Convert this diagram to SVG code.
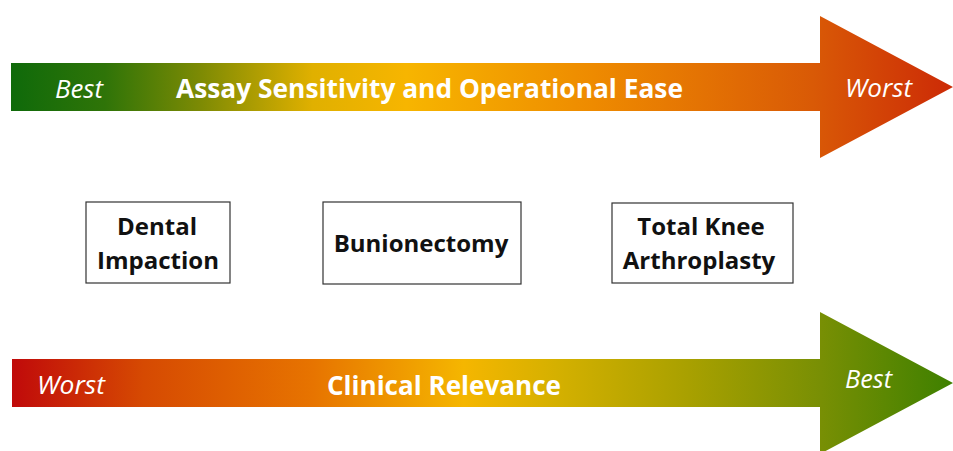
<svg xmlns="http://www.w3.org/2000/svg" width="953" height="451" viewBox="0 0 953 451">
  <defs>
    <linearGradient id="gradTop" gradientUnits="userSpaceOnUse" x1="11" y1="0" x2="953" y2="0">
      <stop offset="0" stop-color="#0f6a0a"/>
      <stop offset="0.1" stop-color="#2f7408"/>
      <stop offset="0.2" stop-color="#7c8a04"/>
      <stop offset="0.32" stop-color="#e0b000"/>
      <stop offset="0.42" stop-color="#f7b500"/>
      <stop offset="0.62" stop-color="#ee8a00"/>
      <stop offset="0.85" stop-color="#d95a06"/>
      <stop offset="1" stop-color="#cc2a06"/>
    </linearGradient>
    <linearGradient id="gradBottom" gradientUnits="userSpaceOnUse" x1="12" y1="0" x2="953" y2="0">
      <stop offset="0" stop-color="#c00a0a"/>
      <stop offset="0.14" stop-color="#d64a02"/>
      <stop offset="0.32" stop-color="#e77400"/>
      <stop offset="0.48" stop-color="#f5b600"/>
      <stop offset="0.58" stop-color="#d4b000"/>
      <stop offset="0.72" stop-color="#a8a000"/>
      <stop offset="0.86" stop-color="#788f04"/>
      <stop offset="1" stop-color="#3e8000"/>
    </linearGradient>
    <style>
      .label { font-family: "Open Sans", "Liberation Sans", sans-serif; fill: #ffffff; }
      .title { font-weight: bold; font-size: 27px; }
      .end { font-style: italic; font-size: 25px; }
      .box { fill: #ffffff; stroke: #333333; stroke-width: 1.2; }
      .boxtext { font-family: "Open Sans", "Liberation Sans", sans-serif; font-weight: bold; font-size: 24px; fill: #111111; text-anchor: middle; }
    </style>
  </defs>

  <rect width="953" height="451" fill="#ffffff"/>

  <!-- Upper scale arrow -->
  <g id="arrow-assay">
    <polygon points="11,63 820,63 820,16 953,87 820,158 820,111 11,111" fill="url(#gradTop)"/>
    <text class="label end" x="55" y="98" textLength="48" lengthAdjust="spacingAndGlyphs">Best</text>
    <text class="label title" x="176" y="98" textLength="507" lengthAdjust="spacingAndGlyphs">Assay Sensitivity and Operational Ease</text>
    <text class="label end" x="845" y="97" textLength="67" lengthAdjust="spacingAndGlyphs">Worst</text>
  </g>

  <!-- Lower scale arrow -->
  <g id="arrow-clinical">
    <polygon points="12,359 820,359 820,312 953,383 820,454 820,407 12,407" fill="url(#gradBottom)"/>
    <text class="label end" x="37" y="394" textLength="68" lengthAdjust="spacingAndGlyphs">Worst</text>
    <text class="label title" x="327" y="395" textLength="234" lengthAdjust="spacingAndGlyphs">Clinical Relevance</text>
    <text class="label end" x="845" y="388" textLength="47" lengthAdjust="spacingAndGlyphs">Best</text>
  </g>

  <!-- Procedure boxes -->
  <g id="node-dental">
    <rect class="box" x="86" y="202" width="144" height="81"/>
    <text class="boxtext" x="157" y="235">Dental</text>
    <text class="boxtext" x="158" y="269">Impaction</text>
  </g>
  <g id="node-bunionectomy">
    <rect class="box" x="323" y="202" width="198" height="82"/>
    <text class="boxtext" x="421" y="252">Bunionectomy</text>
  </g>
  <g id="node-tka">
    <rect class="box" x="612" y="203" width="181" height="80"/>
    <text class="boxtext" x="701" y="235">Total Knee</text>
    <text class="boxtext" x="699" y="269">Arthroplasty</text>
  </g>
</svg>
